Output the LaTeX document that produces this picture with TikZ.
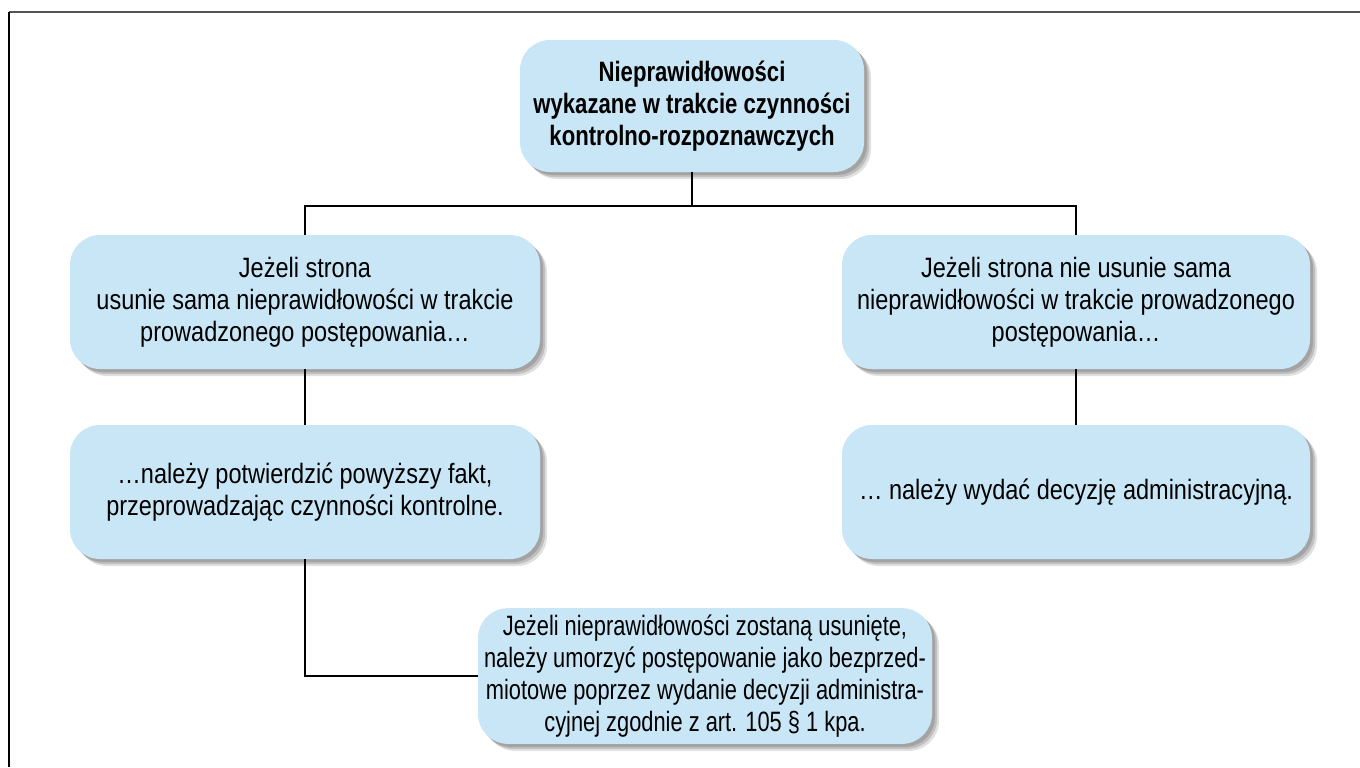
\documentclass[tikz,border=0pt]{standalone}
\usepackage{fontspec}
\setmainfont{Liberation Sans}[FakeStretch=0.84,BoldFeatures={FakeStretch=0.79}]
\newfontfamily\narrowfont{Liberation Sans}[FakeStretch=0.78]
\usetikzlibrary{shadows}
\definecolor{boxblue}{RGB}{201,230,246}
\definecolor{framegray}{RGB}{85,85,85}
\begin{document}
\begin{tikzpicture}[x=0.5pt,y=-0.5pt]
        \useasboundingbox (0,0) rectangle (1360,767);
        \tikzstyle{every node}=[rounded corners=15pt,fill=boxblue,align=center,
            font=\fontsize{14pt}{16pt}\selectfont,
            general shadow={shadow xshift=3.5pt,shadow yshift=-3.5pt,fill=black,opacity=.12},
            general shadow={shadow xshift=2.5pt,shadow yshift=-2.5pt,fill=black,opacity=.15},
            general shadow={shadow xshift=1.5pt,shadow yshift=-1.5pt,fill=black,opacity=.15}];
        \tikzstyle{link}=[line width=0.8pt,black];
        % frame
        \draw[framegray,line width=1pt] (9,12)--(1360,12);
        \draw[black,line width=1pt] (9,12)--(9,767);
        %\node (name) at (x,y) [minimum width=...] {text};
        \node (top) at (692,106) [minimum width=172pt,minimum height=66pt] {\bfseries Nieprawidłowości\\\bfseries wykazane w trakcie czynności\\\bfseries kontrolno-rozpoznawczych};
        \node (l1) at (305,302) [minimum width=235pt,minimum height=67pt] {Jeżeli strona\\usunie sama nieprawidłowości w trakcie\\prowadzonego postępowania\dots};
        \node (r1) at (1076,302) [minimum width=234pt,minimum height=67pt] {Jeżeli strona nie usunie sama\\nieprawidłowości w trakcie prowadzonego\\postępowania\dots};
        \node (l2) at (305,492) [minimum width=235pt,minimum height=67pt] {\dots należy potwierdzić powyższy fakt,\\przeprowadzając czynności kontrolne.};
        \node (r2) at (1076,492) [minimum width=234pt,minimum height=67pt] {\dots\ należy wydać decyzję administracyjną.};
        \node (bot) at (705,676) [minimum width=227pt,minimum height=66pt,inner xsep=2pt,
            font=\narrowfont\fontsize{14pt}{16pt}\selectfont] {Jeżeli nieprawidłowości zostaną usunięte,\\należy umorzyć postępowanie jako bezprzed-\\miotowe poprzez wydanie decyzji administra-\\cyjnej zgodnie z art. 105 \S\ 1 kpa.};
        \coordinate (split) at (692,206);
        \draw[link] (top.south)--(split)
        (split)-|(l1.north)
        (split)-|(r1.north)
        (l1)--(l2)
        (r1)--(r2);
        \draw[link] (l2.south)|-(bot.west);
    \end{tikzpicture}
\end{document}
